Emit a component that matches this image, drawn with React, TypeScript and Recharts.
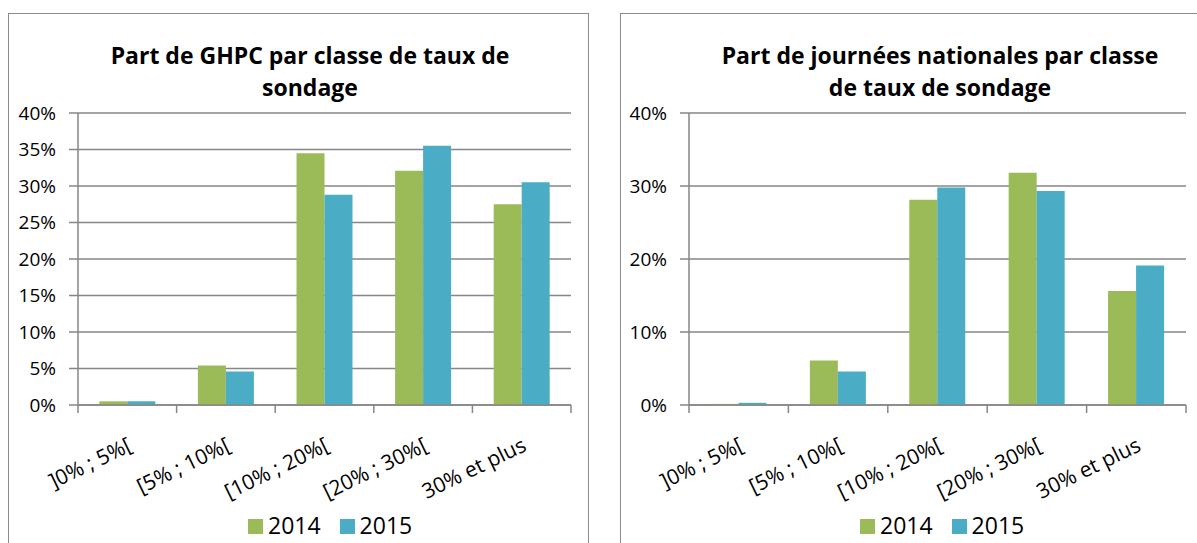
import React from "react";
import { BarChart, Bar, XAxis, YAxis, CartesianGrid } from "recharts";

const categories = ["]0% ; 5%[", "[5% ; 10%[", "[10% ; 20%[", "[20% ; 30%[", "30% et plus"];
const ghpc2014 = [0.005, 0.054, 0.345, 0.321, 0.275];
const ghpc2015 = [0.005, 0.046, 0.288, 0.355, 0.305];
const jn2014 = [0.0015, 0.061, 0.281, 0.318, 0.156];
const jn2015 = [0.003, 0.046, 0.298, 0.293, 0.191];
const ghpcTicks = [0, 0.05, 0.1, 0.15, 0.2, 0.25, 0.3, 0.35, 0.4];
const jnTicks = [0, 0.1, 0.2, 0.3, 0.4];
const seriesNames = ["2014", "2015"];

const GREEN = "#9BBB59";
const BLUE = "#4BACC6";
const GRAY = "#868686";
const FONT = "'Open Sans', sans-serif";

const ghpcData = categories.map((c, i) => ({ cat: c, y2014: ghpc2014[i], y2015: ghpc2015[i] }));
const jnData = categories.map((c, i) => ({ cat: c, y2014: jn2014[i], y2015: jn2015[i] }));

const pct = (v: number) => `${Math.round(v * 100)}%`;

const XTick = (props: any) => {
  const { x, y, payload, index, visibleTicksCount } = props;
  const half = payload && payload.offset ? payload.offset : 49.5;
  const isLast = index === visibleTicksCount - 1;
  const ax = x + 6;
  const ay = y + 45;
  return (
    <g>
      <line x1={x - half} x2={x - half} y1={y} y2={y + 8} stroke={GRAY} strokeWidth={1.5} />
      {isLast && <line x1={x + half} x2={x + half} y1={y} y2={y + 8} stroke={GRAY} strokeWidth={1.5} />}
      <text
        x={ax}
        y={ay}
        textAnchor="end"
        transform={`rotate(-26, ${ax}, ${ay})`}
        fontFamily={FONT}
        fontSize={21}
        fill="#000"
      >
        {payload.value}
      </text>
    </g>
  );
};

const Legend = ({ left }: { left: number }) => (
  <div
    style={{
      position: "absolute",
      left,
      top: 511,
      fontFamily: FONT,
      fontSize: 23,
      lineHeight: "28px",
      whiteSpace: "nowrap",
      color: "#000",
    }}
  >
    {seriesNames.map((n, i) => (
      <span key={n} style={{ marginRight: i === 0 ? 19 : 0 }}>
        <span
          style={{
            display: "inline-block",
            width: 15,
            height: 15,
            background: i === 0 ? GREEN : BLUE,
            marginRight: 5,
            verticalAlign: "baseline",
          }}
        />
        {n}
      </span>
    ))}
  </div>
);

const Title = ({ lines, center }: { lines: string[]; center: number }) => (
  <div
    style={{
      position: "absolute",
      left: center - 300,
      width: 600,
      top: 39,
      textAlign: "center",
      fontFamily: FONT,
      fontWeight: 700,
      fontSize: 23,
      lineHeight: "32px",
      color: "#000",
    }}
  >
    {lines.map((l) => (
      <div key={l}>{l}</div>
    ))}
  </div>
);

const Panel = ({
  data,
  ticks,
  chartLeft,
  chartWidth,
  margin,
}: {
  data: any[];
  ticks: number[];
  chartLeft: number;
  chartWidth: number;
  margin: any;
}) => (
  <div style={{ position: "absolute", left: chartLeft, top: 0 }}>
    <BarChart
      width={chartWidth}
      height={543}
      data={data}
      margin={margin}
      barCategoryGap="21.6%"
      barGap={0}
    >
      <CartesianGrid vertical={false} stroke={GRAY} strokeWidth={1.5} />
      <XAxis
        dataKey="cat"
        height={100}
        interval={0}
        tickSize={0}
        tickMargin={0}
        tick={<XTick />}
        axisLine={{ stroke: GRAY, strokeWidth: 1.5 }}
        tickLine={false}
      />
      <YAxis
        width={60}
        domain={[0, 0.4]}
        ticks={ticks}
        interval={0}
        tickFormatter={pct}
        tickSize={9}
        tickMargin={13}
        axisLine={{ stroke: GRAY, strokeWidth: 1.5 }}
        tickLine={{ stroke: GRAY, strokeWidth: 1.5 }}
        tick={{ fontFamily: FONT, fontSize: 19, fill: "#000" }}
      />
      <Bar dataKey="y2014" fill={GREEN} isAnimationActive={false} />
      <Bar dataKey="y2015" fill={BLUE} isAnimationActive={false} />
    </BarChart>
  </div>
);

export default function App() {
  return (
    <div
      style={{
        position: "absolute",
        left: 0,
        top: 0,
        width: 1197,
        height: 543,
        overflow: "hidden",
        background: "#fff",
      }}
    >
      <div
        style={{
          position: "absolute",
          left: 8,
          top: 13,
          width: 579,
          height: 560,
          border: "1px solid #8c8c8c",
        }}
      />
      <div
        style={{
          position: "absolute",
          left: 620,
          top: 13,
          width: 600,
          height: 560,
          border: "1px solid #8c8c8c",
        }}
      />
      <Panel
        data={ghpcData}
        ticks={ghpcTicks}
        chartLeft={0}
        chartWidth={600}
        margin={{ top: 113, right: 29, bottom: 38, left: 18 }}
      />
      <Panel
        data={jnData}
        ticks={jnTicks}
        chartLeft={600}
        chartWidth={597}
        margin={{ top: 113, right: 11, bottom: 38, left: 29 }}
      />
      <Title lines={["Part de GHPC par classe de taux de", "sondage"]} center={310} />
      <Title lines={["Part de journées nationales par classe", "de taux de sondage"]} center={940} />
      <Legend left={248} />
      <Legend left={860} />
    </div>
  );
}
